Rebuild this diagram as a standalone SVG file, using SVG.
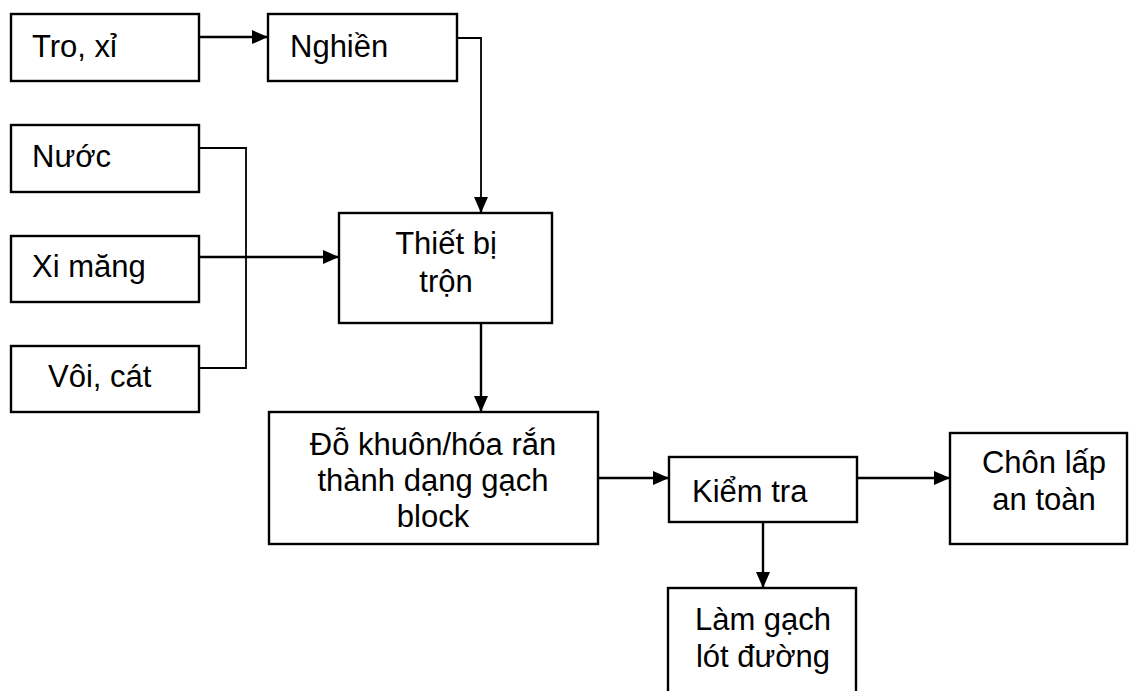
<svg xmlns="http://www.w3.org/2000/svg" width="1129" height="691" viewBox="0 0 1129 691">
  <style>
    .box { fill: #ffffff; stroke: #000000; stroke-width: 2.4; }
    .lbl { font-family: "Liberation Sans", Arial, sans-serif; font-size: 31px; fill: #000000; }
    .mid { text-anchor: middle; }
    .wire { fill: none; stroke: #000000; stroke-width: 2.4; }
    .thin { fill: none; stroke: #000000; stroke-width: 1.8; }
  </style>
  <defs>
    <marker id="arrow" markerUnits="userSpaceOnUse" markerWidth="17" markerHeight="15" refX="16" refY="7" orient="auto">
      <path d="M0,0 L16,7 L0,14 Z" fill="#000000"/>
    </marker>
  </defs>
  <rect width="1129" height="691" fill="#ffffff"/>

  <!-- flow connectors -->
  <g id="connectors">
    <line class="wire" x1="200" y1="37" x2="268" y2="37" marker-end="url(#arrow)"/>
    <polyline class="thin" points="457,38 481,38 481,200"/>
    <line class="wire" x1="481" y1="198" x2="481" y2="213" marker-end="url(#arrow)"/>
    <polyline class="thin" points="200,148 246,148 246,368 200,368"/>
    <line class="wire" x1="200" y1="257" x2="339" y2="257" marker-end="url(#arrow)"/>
    <line class="wire" x1="481" y1="323" x2="481" y2="412" marker-end="url(#arrow)"/>
    <line class="wire" x1="598" y1="478" x2="669" y2="478" marker-end="url(#arrow)"/>
    <line class="wire" x1="857" y1="478" x2="950" y2="478" marker-end="url(#arrow)"/>
    <line class="wire" x1="763" y1="522" x2="763" y2="588" marker-end="url(#arrow)"/>
  </g>

  <g id="tro-xi">
    <rect class="box" x="11" y="14" width="188" height="67"/>
    <text class="lbl" x="32" y="57">Tro, xỉ</text>
  </g>
  <g id="nghien">
    <rect class="box" x="268" y="14" width="189" height="67"/>
    <text class="lbl" x="290" y="57">Nghiền</text>
  </g>
  <g id="nuoc">
    <rect class="box" x="11" y="125" width="188" height="67"/>
    <text class="lbl" x="32" y="167">Nước</text>
  </g>
  <g id="xi-mang">
    <rect class="box" x="11" y="236" width="188" height="66"/>
    <text class="lbl" x="32" y="277">Xi măng</text>
  </g>
  <g id="voi-cat">
    <rect class="box" x="11" y="346" width="188" height="66"/>
    <text class="lbl" x="48" y="387">Vôi, cát</text>
  </g>
  <g id="thiet-bi-tron">
    <rect class="box" x="339" y="213" width="213" height="110"/>
    <text class="lbl mid" x="446" y="254">Thiết bị</text>
    <text class="lbl mid" x="446" y="292">trộn</text>
  </g>
  <g id="do-khuon">
    <rect class="box" x="269" y="412" width="329" height="132"/>
    <text class="lbl mid" x="433" y="455">Đỗ khuôn/hóa rắn</text>
    <text class="lbl mid" x="433" y="491">thành dạng gạch</text>
    <text class="lbl mid" x="433" y="527">block</text>
  </g>
  <g id="kiem-tra">
    <rect class="box" x="669" y="457" width="188" height="65"/>
    <text class="lbl" x="692" y="502">Kiểm tra</text>
  </g>
  <g id="chon-lap">
    <rect class="box" x="950" y="433" width="177" height="111"/>
    <text class="lbl mid" x="1044" y="473">Chôn lấp</text>
    <text class="lbl mid" x="1044" y="510">an toàn</text>
  </g>
  <g id="lam-gach">
    <rect class="box" x="668" y="588" width="188" height="106"/>
    <text class="lbl mid" x="763" y="630">Làm gạch</text>
    <text class="lbl mid" x="763" y="667">lót đường</text>
  </g>
</svg>
